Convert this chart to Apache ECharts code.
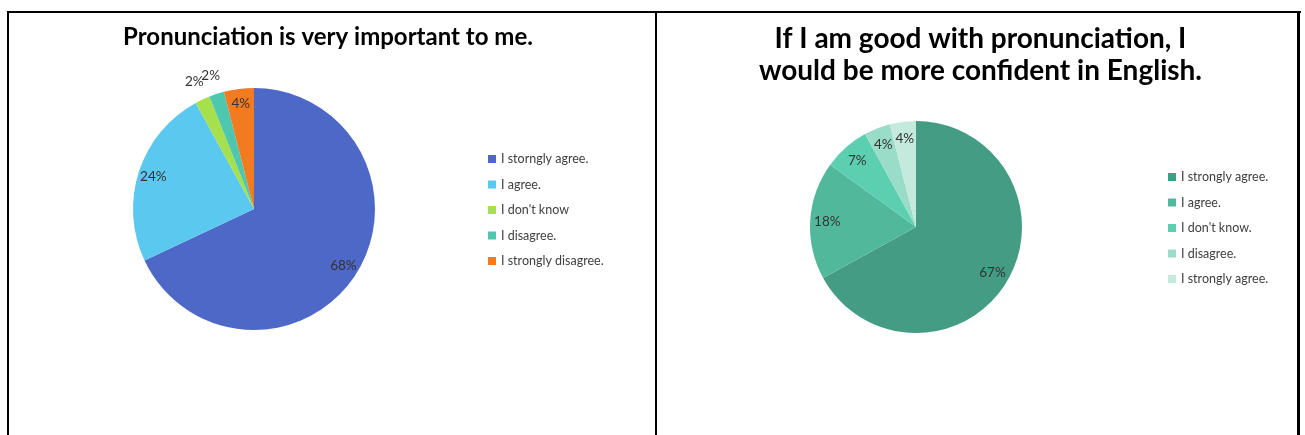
<!DOCTYPE html>
<html>
<head>
<meta charset="utf-8">
<script src="https://cdn.jsdelivr.net/npm/echarts@6/dist/echarts.min.js"></script>
<style>
  html, body { margin: 0; padding: 0; background: #ffffff; }
  #wrap { position: relative; width: 1305px; height: 435px; overflow: hidden; background: #fff; }
  #c1 { position: absolute; left: 0; top: 0; width: 656px; height: 435px; }
  #c2 { position: absolute; left: 656px; top: 0; width: 649px; height: 435px; }
  .ln { position: absolute; background: #000; }
</style>
</head>
<body>
<div id="wrap">
  <div id="c1"></div>
  <div id="c2"></div>
  <div class="ln" style="left:7px; top:11px; width:1294px; height:2px;"></div>
  <div class="ln" style="left:7px; top:11px; width:2px; height:424px;"></div>
  <div class="ln" style="left:655px; top:11px; width:2px; height:424px;"></div>
  <div class="ln" style="left:1297px; top:11px; width:3px; height:424px;"></div>
</div>
<script>
// ---- data ----
const title1 = 'Pronunciation is very important to me.';
const categories1 = ['I storngly agree.', 'I agree.', "I don't know", 'I disagree.', 'I strongly disagree.'];
const values1 = [68, 24, 2, 2, 4];

const title2 = 'If I am good with pronunciation, I\nwould be more confident in English.';
// the last label repeats the first one in the original; a trailing space keeps the legend entries distinct
const categories2 = ['I strongly agree.', 'I agree.', "I don't know.", 'I disagree.', 'I strongly agree. '];
const values2 = [67, 18, 7, 4, 4];

// ---- styling ----
const colors1 = ['#4e68c8', '#5bc8f0', '#a6e04c', '#4fc6ae', '#f27b22'];
const colors2 = ['#459c85', '#52b89c', '#5dcfb1', '#99dcc7', '#c4e9dd'];
const FONT = 'Lato, "Open Sans", sans-serif';

function labelSeries(center, radius, base, showFn, labelStyle) {
  return {
    type: 'pie', center: center, radius: [0, radius], startAngle: 90, clockwise: true,
    silent: true, animation: false, labelLine: { show: false }, avoidLabelOverlap: false,
    minShowLabelAngle: 0,
    labelLayout: { hideOverlap: false },
    itemStyle: { color: 'rgba(0,0,0,0)', borderWidth: 0 },
    label: labelStyle,
    data: base.map((d, i) => ({ ...d, label: { show: showFn(i) } }))
  };
}

function pieOption(opts) {
  const { title, cats, vals, colors, center, r, labelR, outerR, isOuter, legendLeft, legendTop, titleTop, titleSize, titleLH } = opts;
  const base = cats.map((n, i) => ({ name: n, value: vals[i] }));
  const labelStyle = { color: '#333333', fontSize: 13.5, fontFamily: FONT, formatter: '{c}%', position: 'inside', overflow: 'none' };
  const series = [
    {
      type: 'pie', center: center, radius: [0, r], startAngle: 90, clockwise: true,
      label: { show: false }, labelLine: { show: false },
      itemStyle: { borderWidth: 0 },
      data: base.map((d, i) => ({ ...d, itemStyle: { color: colors[i] } })),
      silent: true, animation: false
    },
    labelSeries(center, labelR, base, i => !isOuter(i), labelStyle)
  ];
  // outer labels: one overlay per label so none can hide another
  vals.forEach((v, k) => {
    if (isOuter(k)) series.push(labelSeries(center, outerR, base, i => i === k, labelStyle));
  });
  return {
    backgroundColor: 'transparent',
    animation: false,
    title: {
      text: title, left: 'center', top: titleTop,
      textStyle: { fontFamily: FONT, fontWeight: 'bold', fontSize: titleSize, lineHeight: titleLH, color: '#000' }
    },
    legend: {
      orient: 'vertical', left: legendLeft, top: legendTop,
      data: cats, itemWidth: 8, itemHeight: 8, itemGap: 11.5, icon: 'rect',
      textStyle: { fontFamily: FONT, fontSize: 12.5, lineHeight: 14, color: '#404040' },
      selectedMode: false
    },
    series: series
  };
}

const ch1 = echarts.init(document.getElementById('c1'), null, { renderer: 'canvas' });
ch1.setOption(pieOption({
  title: title1, cats: categories1, vals: values1, colors: colors1,
  center: [254, 209], r: 121, labelR: 121 * 1.70, outerR: 121 * 2.27,
  isOuter: i => values1[i] <= 2,
  legendLeft: 483, legendTop: 147, titleTop: 18, titleSize: 24, titleLH: 28
}));

const ch2 = echarts.init(document.getElementById('c2'), null, { renderer: 'canvas' });
ch2.setOption(pieOption({
  title: title2, cats: categories2, vals: values2, colors: colors2,
  center: [260, 227], r: 106, labelR: 106 * 1.62, outerR: null,
  isOuter: i => false,
  legendLeft: 507, legendTop: 165, titleTop: 18, titleSize: 28, titleLH: 32
}));
</script>
</body>
</html>
